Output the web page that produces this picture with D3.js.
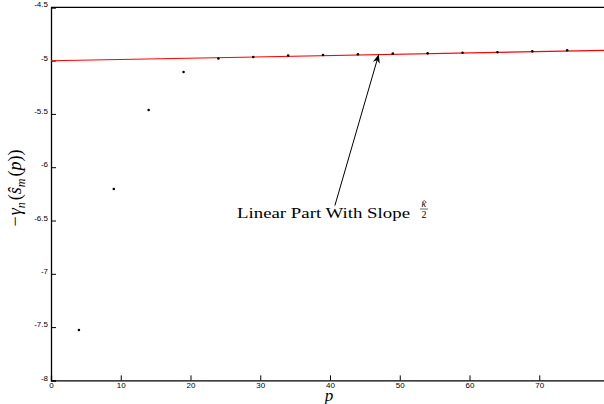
<!DOCTYPE html>
<html>
<head>
<meta charset="utf-8">
<script src="https://cdn.jsdelivr.net/npm/d3@7"></script>
<style>
  body { margin: 0; background: #fff; }
  svg { display: block; }
  .tick text { font-family: "Liberation Sans", Arial, sans-serif; font-size: 8px; fill: #000; }
</style>
</head>
<body>
<svg id="chart" width="604" height="404"></svg>
<script>
// data
const pValues = [4, 9, 14, 19, 24, 29, 34, 39, 44, 49, 54, 59, 64, 69, 74];
const gammaValues = [-7.527, -6.204, -5.463, -5.107, -4.981, -4.966, -4.953, -4.947,
                     -4.941, -4.935, -4.932, -4.926, -4.922, -4.913, -4.903];
const fitP = [0, 80];
const fitValues = [-5.002, -4.903];
const xTicks = [0, 10, 20, 30, 40, 50, 60, 70];
const yTicks = [-8, -7.5, -7, -6.5, -6, -5.5, -5, -4.5];
const arrowFrom = [40.7, -6.36];  // p, value
const arrowTo = [47.0, -4.94];

const svg = d3.select('#chart');
const margin = {top: 7.3, left: 51, bottom: 23.6};
const width = 558, height = 404 - margin.top - margin.bottom;

const x = d3.scaleLinear().domain([0, 80]).range([margin.left, margin.left + width]);
const y = d3.scaleLinear().domain([-8, -4.5]).range([margin.top + height, margin.top]);

// frame (top line + axes)
svg.append('line')
    .attr('x1', x(0)).attr('x2', x(80))
    .attr('y1', y(-4.5)).attr('y2', y(-4.5))
    .attr('stroke', '#000').attr('stroke-width', 1.2);

const xAxis = svg.append('g')
    .attr('transform', `translate(0,${y(-8)})`)
    .call(d3.axisBottom(x).tickValues(xTicks).tickSize(-5).tickPadding(4).tickFormat(d3.format('d')));
const yAxis = svg.append('g')
    .attr('transform', `translate(${x(0)},0)`)
    .call(d3.axisLeft(y).tickValues(yTicks).tickSize(-5).tickPadding(3)
        .tickFormat(d => String(d)));

[xAxis, yAxis].forEach(a => {
    a.select('.domain').attr('stroke', '#000').attr('stroke-width', 1.3);
    a.selectAll('.tick line').attr('stroke', '#000').attr('stroke-width', 1);
});
xAxis.selectAll('.tick text').attr('dy', '0.4em');
yAxis.selectAll('.tick text').attr('dy', '-0.05em');

// fitted line
svg.append('path')
    .datum(fitP.map((p, i) => [p, fitValues[i]]))
    .attr('d', d3.line().x(d => x(d[0])).y(d => y(d[1])))
    .attr('fill', 'none').attr('stroke', '#f00').attr('stroke-width', 1.1);

// points
svg.selectAll('circle.pt')
    .data(pValues.map((p, i) => [p, gammaValues[i]]))
    .enter().append('circle')
    .attr('class', 'pt')
    .attr('cx', d => x(d[0])).attr('cy', d => y(d[1]))
    .attr('r', 1.3).attr('fill', '#000');

// arrow
svg.append('defs').append('marker')
    .attr('id', 'head').attr('viewBox', '0 0 10 10')
    .attr('refX', 10).attr('refY', 5)
    .attr('markerWidth', 9).attr('markerHeight', 9)
    .attr('markerUnits', 'userSpaceOnUse')
    .attr('orient', 'auto')
    .append('path').attr('d', 'M0,1 L10,5 L0,9 L3,5 Z').attr('fill', '#000');

svg.append('line')
    .attr('x1', x(arrowFrom[0])).attr('y1', y(arrowFrom[1]))
    .attr('x2', x(arrowTo[0])).attr('y2', y(arrowTo[1]))
    .attr('stroke', '#000').attr('stroke-width', 1)
    .attr('marker-end', 'url(#head)');

// annotation text
const ann = svg.append('g')
    .attr('font-family', '"Liberation Serif", "DejaVu Serif", serif')
    .attr('fill', '#000');
ann.append('text')
    .attr('x', 237).attr('y', 218)
    .attr('font-size', 15)
    .attr('textLength', 173).attr('lengthAdjust', 'spacingAndGlyphs')
    .text('Linear Part With Slope');
const fx = 424;
ann.append('text').attr('x', fx).attr('y', 207).attr('font-size', 10)
    .attr('text-anchor', 'middle').attr('font-style', 'italic').text('\u03BA');
// hat over kappa
ann.append('path')
    .attr('d', `M${fx - 1.8},${202.2} L${fx + 0.3},${200.6} L${fx + 2.4},${202.2}`)
    .attr('fill', 'none').attr('stroke', '#000').attr('stroke-width', 0.6);
ann.append('line').attr('x1', fx - 4).attr('x2', fx + 4).attr('y1', 209).attr('y2', 209)
    .attr('stroke', '#000').attr('stroke-width', 0.6);
ann.append('text').attr('x', fx).attr('y', 218).attr('font-size', 10)
    .attr('text-anchor', 'middle').text('2');

// axis labels
svg.append('text')
    .attr('x', 329).attr('y', 401)
    .attr('font-family', '"Liberation Serif", serif')
    .attr('font-style', 'italic').attr('font-size', 17)
    .attr('text-anchor', 'middle').text('p');

const yl = svg.append('text')
    .attr('transform', `translate(21,188) rotate(-90)`)
    .attr('font-family', '"Liberation Serif", serif')
    .attr('font-size', 18)
    .attr('text-anchor', 'middle');
yl.append('tspan').text('\u2212');
yl.append('tspan').attr('font-style', 'italic').attr('dx', 1).text('\u03B3');
yl.append('tspan').attr('font-style', 'italic').attr('font-size', 12).attr('dy', 4).text('n');
yl.append('tspan').attr('dy', -4).attr('dx', 2).text('(');
yl.append('tspan').attr('font-style', 'italic').text('\u015D');
yl.append('tspan').attr('font-style', 'italic').attr('font-size', 12).attr('dy', 4).text('m');
yl.append('tspan').attr('dy', -4).attr('dx', 2).text('(');
yl.append('tspan').attr('font-style', 'italic').text('p');
yl.append('tspan').text('))');
</script>
</body>
</html>
